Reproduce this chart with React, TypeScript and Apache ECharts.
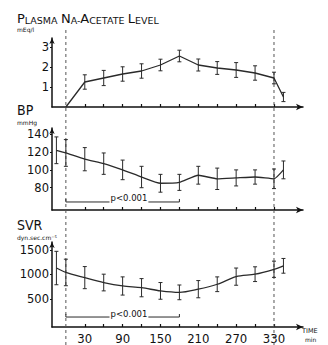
import React, { useEffect, useRef } from "react";
import * as echarts from "echarts";

const times = [-15, 0, 30, 60, 90, 120, 150, 180, 210, 240, 270, 300, 330, 345];
const plasmaTimes = [0, 30, 60, 90, 120, 150, 180, 210, 240, 270, 300, 330, 345];
const plasma = [0, 1.25, 1.45, 1.65, 1.8, 2.1, 2.55, 2.1, 1.95, 1.85, 1.7, 1.45, 0.5];
const plasmaErr = [0, 0.36, 0.38, 0.36, 0.36, 0.29, 0.29, 0.3, 0.32, 0.37, 0.36, 0.29, 0.23];
const bp = [122, 119, 112, 107, 100, 92, 85, 86, 94, 90, 91, 92, 90, 100];
const bpErr = [15, 15, 13, 12, 11, 12, 10, 9, 10, 12, 9, 8, 11, 10];
const svr = [1130, 1040, 935, 835, 765, 730, 665, 635, 700, 800, 955, 1005, 1105, 1175];
const svrErr = [340, 270, 225, 170, 185, 185, 170, 150, 175, 150, 175, 150, 165, 150];
const timeTicks = [30, 60, 90, 120, 150, 180, 210, 240, 270, 300, 330];
const timeLabels = [30, 90, 150, 210, 270, 330];
const plasmaTicks = [1, 2, 3];
const bpTicks = [80, 100, 120, 140];
const svrTicks = [500, 1000, 1500];
const markTimes = [0, 330];
const sigRange = [0, 180];
const sigText = "p<0.001";

const INK = "#2a2a2a";

export default function App() {
  const ref = useRef<HTMLDivElement>(null);
  useEffect(() => {
    document.body.style.margin = "0";
    const chart = echarts.init(ref.current!, null, { renderer: "svg" });

    const grids = [
      { left: 52, right: 25, top: 38, height: 69 },
      { left: 52, right: 25, top: 128, height: 82 },
      { left: 52, right: 25, top: 242, height: 85 },
    ];
    const yRanges = [
      [0, 3.45, plasmaTicks],
      [55, 147, bpTicks],
      [-70, 1660, svrTicks],
    ] as const;

    const xAxes = grids.map((_, i) => ({
      type: "value",
      gridIndex: i,
      min: -22,
      max: 376,
      splitLine: { show: false },
      axisLine: {
        show: true,
        onZero: false,
        symbol: ["none", "arrow"],
        symbolSize: [5, 7],
        lineStyle: { color: "#111", width: 1.5 },
      },
      axisTick: {
        show: true,
        inside: true,
        length: 3,
        customValues: timeTicks,
        lineStyle: { color: "#111", width: 1.2 },
      },
      axisLabel: {
        show: i === 2,
        customValues: timeLabels,
        formatter: (v: number) => String(v),
        fontFamily: "DejaVu Sans Condensed",
        fontSize: 13,
        color: "#111",
        margin: 5,
      },
    }));

    const yAxes = yRanges.map(([min, max, ticks], i) => ({
      type: "value",
      gridIndex: i,
      min,
      max,
      splitLine: { show: false },
      axisLine: {
        show: true,
        onZero: false,
        symbol: ["none", "arrow"],
        symbolSize: [4, 6],
        lineStyle: { color: "#111", width: 1.5 },
      },
      axisTick: {
        show: true,
        length: 2,
        customValues: ticks as any,
        lineStyle: { color: "#111", width: 1.2 },
      },
      axisLabel: {
        customValues: ticks as any,
        formatter: (v: number) => String(v),
        fontFamily: "DejaVu Sans",
        fontSize: 11.5,
        color: "#111",
        margin: 3,
      },
    }));

    const errRender = (params: any, api: any) => {
      const x = api.value(0);
      const y = api.value(1);
      const e = api.value(2);
      if (!e) return null;
      const p1 = api.coord([x, y + e]);
      const p2 = api.coord([x, y - e]);
      const w = 2;
      const st = { stroke: INK, lineWidth: 1 };
      return {
        type: "group",
        children: [
          { type: "line", shape: { x1: p1[0], y1: p1[1], x2: p2[0], y2: p2[1] }, style: st },
          { type: "line", shape: { x1: p1[0] - w, y1: p1[1], x2: p1[0] + w, y2: p1[1] }, style: st },
          { type: "line", shape: { x1: p2[0] - w, y1: p2[1], x2: p2[0] + w, y2: p2[1] }, style: st },
        ],
      };
    };

    const sets = [
      { t: plasmaTimes, v: plasma, e: plasmaErr, smooth: false },
      { t: times, v: bp, e: bpErr, smooth: 0.15 },
      { t: times, v: svr, e: svrErr, smooth: 0.3 },
    ];
    const series: any[] = [];
    sets.forEach((s, i) => {
      series.push({
        type: "line",
        xAxisIndex: i,
        yAxisIndex: i,
        data: s.t.map((t, k) => [t, s.v[k]]),
        showSymbol: false,
        smooth: s.smooth,
        lineStyle: { color: INK, width: 1.3 },
        z: 3,
      });
      series.push({
        type: "custom",
        xAxisIndex: i,
        yAxisIndex: i,
        data: s.t.map((t, k) => [t, s.v[k], s.e[k]]),
        encode: { x: 0, y: 1 },
        renderItem: errRender,
        z: 4,
      });
    });

    chart.setOption({
      animation: false,
      backgroundColor: "#fff",
      grid: grids,
      xAxis: xAxes,
      yAxis: yAxes,
      series,
    });

    const px = (gi: number, t: number, v: number) =>
      chart.convertToPixel({ xAxisIndex: gi, yAxisIndex: gi } as any, [t, v]) as number[];

    const graphics: any[] = [];
    markTimes.forEach((t) => {
      const x = px(0, t, 0)[0];
      graphics.push({
        type: "line",
        shape: { x1: x, y1: 30, x2: x, y2: 345 },
        style: { stroke: "#555", lineWidth: 1, lineDash: [3, 3] },
        z: 1,
      });
    });

    const sigLevels = [
      [1, 64],
      [2, 133],
    ];
    sigLevels.forEach(([gi, v]) => {
      const a = px(gi, sigRange[0], v);
      const b = px(gi, sigRange[1], v);
      const st = { stroke: INK, lineWidth: 1 };
      graphics.push({ type: "polyline", shape: { points: [[a[0], a[1] - 3], a, b, [b[0], b[1] - 3]] }, style: { ...st, fill: "none" }, z: 5 });
      const c = px(gi, 100, v);
      graphics.push({
        type: "text",
        x: c[0],
        y: c[1] + 1,
        style: {
          text: sigText,
          fontFamily: "DejaVu Sans",
          fontSize: 8.5,
          fill: "#111",
          align: "center",
          verticalAlign: "bottom",
          backgroundColor: "#fff",
          padding: [0, 1, 0, 1],
        },
        z: 6,
      });
    });

    const txt = (x: number, y: number, text: string, size: number, fam = "DejaVu Sans", extra: any = {}) => ({
      type: "text",
      x,
      y,
      style: { text, fontFamily: fam, fontSize: size, fill: "#111", verticalAlign: "top", ...extra },
      z: 6,
    });

    graphics.push({
      type: "text",
      x: 17,
      y: 11,
      style: {
        text: "{a|P}{b|LASMA} {a|N}{b|A-}{a|A}{b|CETATE} {a|L}{b|EVEL}",
        verticalAlign: "top",
        rich: {
          a: { fontFamily: "DejaVu Sans", fontSize: 13, fill: "#111", verticalAlign: "bottom", lineHeight: 14 },
          b: { fontFamily: "DejaVu Sans", fontSize: 9.5, fill: "#111", verticalAlign: "bottom", lineHeight: 14 },
        },
      },
      z: 6,
    });
    graphics.push(txt(17, 26, "mEq/l", 6));
    graphics.push(txt(17, 102, "BP", 14, "DejaVu Sans Condensed", { lineHeight: 15 }));
    graphics.push(txt(17, 119, "mmHg", 6, "DejaVu Sans", { lineHeight: 7 }));
    graphics.push(txt(17, 217, "SVR", 14, "DejaVu Sans Condensed", { lineHeight: 15 }));
    graphics.push(txt(17, 234, "dyn.sec.cm\u207B\u2075", 6, "DejaVu Sans", { lineHeight: 7 }));
    graphics.push(txt(302, 327, "TIME", 6.5, "DejaVu Sans", { lineHeight: 8 }));
    graphics.push(txt(305, 336, "min", 6, "DejaVu Sans", { lineHeight: 7 }));

    chart.setOption({ graphic: graphics });

    return () => chart.dispose();
  }, []);
  return <div ref={ref} style={{ width: 328, height: 345 }} />;
}
